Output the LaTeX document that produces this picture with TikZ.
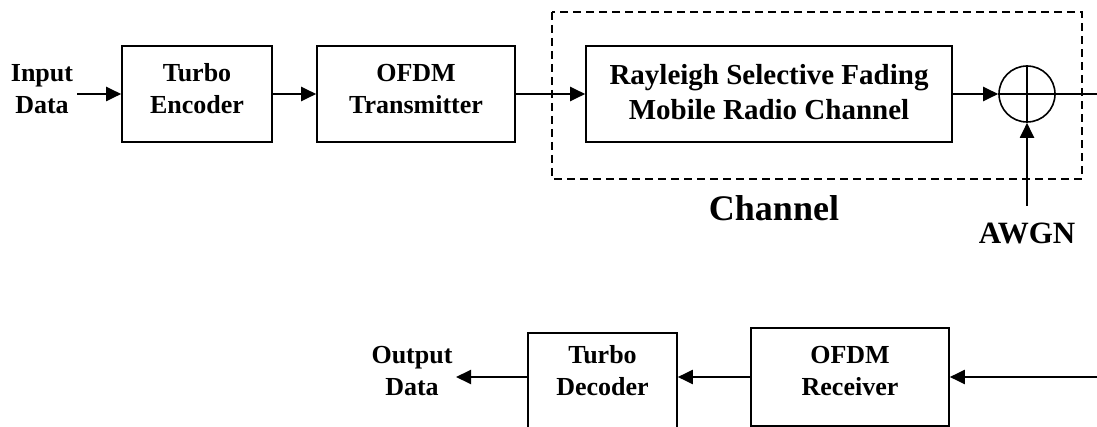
\documentclass[tikz,border=0pt]{standalone}
\usepackage{fontspec}
\setmainfont{Liberation Serif}
\usetikzlibrary{arrows.meta}
\tikzset{
  blk/.style={draw, line width=1.6pt, inner sep=0pt},
  lbl/.style={inner sep=0pt, align=center, font=\bfseries\fontsize{26}{32}\selectfont},
  flow/.style={line width=2pt, -{Triangle[length=15pt,width=14pt]}},
  plain/.style={line width=2pt},
}
\begin{document}
\begin{tikzpicture}[x=1pt,y=-1pt]
\path[use as bounding box] (0,0) rectangle (1097,427);
\clip (0,0) rectangle (1097,427);
% channel dashed frame
\draw[line width=1.5pt, dash pattern=on 8pt off 5pt] (552,12) rectangle (1082,179);
% top row
\node[lbl] (in) at (42,89) {Input\\Data};
\coordinate (inS) at (77,94);
\node[blk, minimum width=150, minimum height=96] (te) at (197,94) {};
\node[lbl] (tet) at (197,89) {Turbo\\Encoder};
\node[blk, minimum width=198, minimum height=96] (tx) at (416,94) {};
\node[lbl] (txt) at (416,89) {OFDM\\Transmitter};
\node[blk, minimum width=366, minimum height=96] (ray) at (769,94) {};
\node[lbl, font=\bfseries\fontsize{29}{35}\selectfont] (rayt) at (769,92.5) {Rayleigh Selective Fading\\Mobile Radio Channel};
\node[draw, circle, line width=1.6pt, minimum size=56, inner sep=0pt] (sum) at (1027,94) {};
\draw[line width=1.6pt] (sum.north) -- (sum.south) (sum.west) -- (sum.east);
\coordinate (outR) at (1097,94);
\coordinate (awgnS) at (1027,206);
\node[lbl, font=\bfseries\fontsize{36}{40}\selectfont] (ch) at (774,208) {Channel};
\node[lbl, font=\bfseries\fontsize{31}{36}\selectfont] (awgn) at (1027,233) {AWGN};
\draw[flow] (inS) -- (te.west);
\draw[flow] (te.east) -- (tx.west);
\draw[flow] (tx.east) -- (ray.west);
\draw[flow] (ray.east) -- (sum.west);
\draw[plain] (sum.east) -- (outR);
\draw[flow] (awgnS) -- (sum.south);
% bottom row
\coordinate (inR) at (1097,377);
\node[blk, minimum width=198, minimum height=98] (rx) at (850,377) {};
\node[lbl] (rxt) at (850,371.5) {OFDM\\Receiver};
\node[blk, minimum width=149, minimum height=110, anchor=north] (td) at (602.5,332) {};
\node[lbl] (tdt) at (602.5,371) {Turbo\\Decoder};
\node[lbl] (out) at (412,371) {Output\\Data};
\coordinate (outL) at (456,377);
\draw[flow] (inR) -- (rx.east);
\draw[flow] (rx.west) -- (rx.west -| td.east);
\draw[flow] (rx.west -| td.west) -- (outL);
\end{tikzpicture}
\end{document}
